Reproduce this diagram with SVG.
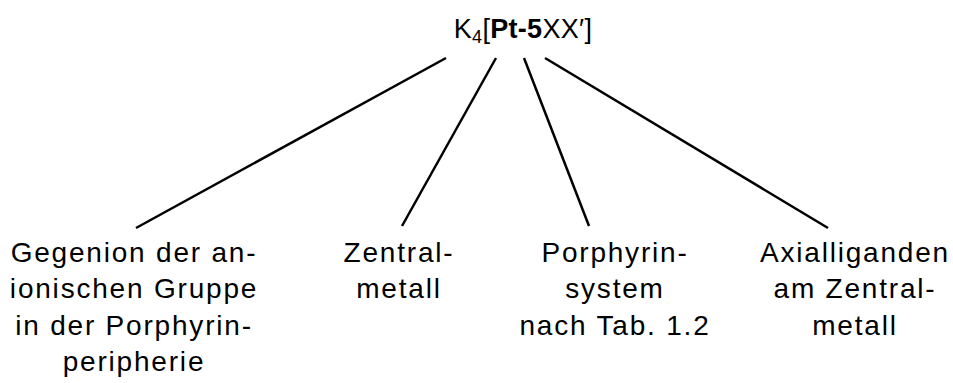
<svg xmlns="http://www.w3.org/2000/svg" width="953" height="383" viewBox="0 0 953 383">
<style>
text{font-family:"Liberation Sans",Arial,sans-serif;font-size:28px;letter-spacing:1.8px;fill:#000;text-anchor:middle}
.t{font-size:27px;letter-spacing:0.3px}
.b{font-weight:bold}
line{stroke:#000;stroke-width:2.5}
</style>
<rect width="953" height="383" fill="#fff"/>
<g id="formula"><text class="t" x="523" y="38">K<tspan font-size="18" dy="5">4</tspan><tspan dy="-5">[</tspan><tspan class="b">Pt-5</tspan>XX′]</text></g>
<g id="connectors">
<line x1="446" y1="58" x2="136" y2="228"/>
<line x1="496" y1="58" x2="402" y2="226"/>
<line x1="524" y1="58" x2="589" y2="226"/>
<line x1="545" y1="58" x2="828" y2="228"/>
</g>
<g id="gegenion"><text x="134" y="262">Gegenion der an-</text><text x="134" y="298">ionischen Gruppe</text><text x="134" y="335">in der Porphyrin-</text><text x="134" y="371">peripherie</text></g>
<g id="zentralmetall"><text x="399" y="262">Zentral-</text><text x="399" y="298">metall</text></g>
<g id="porphyrin"><text x="615" y="262">Porphyrin-</text><text x="615" y="298">system</text><text x="615" y="335">nach Tab. 1.2</text></g>
<g id="axial"><text x="855" y="262">Axialliganden</text><text x="855" y="298">am Zentral-</text><text x="855" y="335">metall</text></g>
</svg>
